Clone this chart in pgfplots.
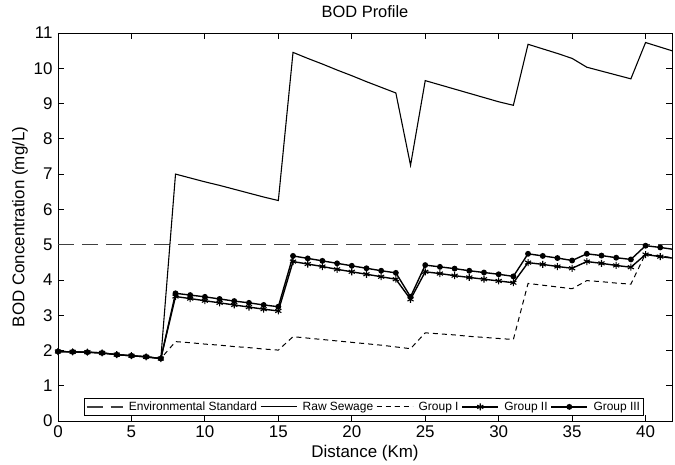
\documentclass[border=0pt]{standalone}
\usepackage{fontspec}
\setmainfont{Liberation Sans}
\usepackage{pgfplots}
\pgfplotsset{compat=1.18}
\usepackage{pgfplotstable}

\pgfplotstableread{
x raw g1 g2 g3
0 1.97 1.97 1.97 1.97
1 1.96 1.96 1.96 1.96
2 1.95 1.95 1.95 1.95
3 1.93 1.93 1.93 1.93
4 1.88 1.88 1.88 1.88
5 1.85 1.85 1.85 1.85
6 1.82 1.82 1.82 1.82
7 1.77 1.77 1.77 1.77
8 7.00 2.25 3.53 3.62
9 6.89 2.22 3.47 3.57
10 6.78 2.18 3.41 3.52
11 6.68 2.15 3.35 3.46
12 6.57 2.11 3.29 3.40
13 6.46 2.08 3.23 3.35
14 6.35 2.04 3.17 3.29
15 6.25 2.01 3.12 3.24
16 10.45 2.39 4.52 4.68
17 10.28 2.35 4.45 4.61
18 10.12 2.31 4.38 4.54
19 9.95 2.27 4.30 4.47
20 9.79 2.23 4.23 4.40
21 9.62 2.19 4.16 4.33
22 9.46 2.15 4.09 4.26
23 9.30 2.10 4.02 4.20
24 7.25 2.05 3.45 3.52
25 9.65 2.50 4.23 4.42
26 9.53 2.47 4.18 4.37
27 9.41 2.44 4.12 4.32
28 9.29 2.40 4.07 4.26
29 9.17 2.37 4.02 4.21
30 9.05 2.34 3.97 4.16
31 8.95 2.31 3.92 4.10
32 10.68 3.90 4.49 4.74
33 10.55 3.85 4.44 4.68
34 10.42 3.80 4.38 4.62
35 10.28 3.75 4.33 4.55
36 10.03 3.98 4.52 4.74
37 9.92 3.95 4.47 4.69
38 9.81 3.91 4.41 4.63
39 9.70 3.88 4.36 4.58
40 10.73 4.74 4.72 4.97
41 10.60 4.68 4.66 4.92
42 10.47 4.62 4.61 4.86
}\data

\pgfplotstableread{
x y
0 5
42 5
}\standard

\begin{document}
\begin{tikzpicture}
\begin{axis}[
  scale only axis, width=614bp, height=388bp,
  xmin=0, xmax=41.8, ymin=0, ymax=11,
  xtick={0,5,...,40}, ytick={0,1,...,11},
  xtick pos=both, ytick pos=both,
  xticklabel pos=lower, yticklabel pos=left,
  tick align=inside, major tick length=6bp,
  axis line style={line width=0.9pt},
  every tick/.style={black, line width=0.8pt},
  /pgf/number format/assume math mode=true,
  tick label style={font=\fontsize{17}{20}\selectfont},
  yticklabel style={xshift=-2bp},
  xticklabel style={yshift=-1bp},
  label style={font=\fontsize{17}{20}\selectfont},
  every axis title shift=0pt,
  title style={font=\fontsize{16.5}{20}\selectfont, at={(axis description cs:0.5,1.054)}, anchor=center, yshift=0pt},
  title={BOD Profile},
  xlabel={Distance (Km)}, ylabel={BOD Concentration (mg/L)},
  xlabel style={at={(axis description cs:0.5,-0.082)}, anchor=center},
  ylabel style={at={(axis description cs:-0.062,0.5)}, anchor=center},
  legend columns=-1,
  legend style={at={(0.042,0.013)}, anchor=south west,
    font=\fontsize{12}{14}\selectfont, draw=black, line width=1pt,
    inner sep=1.5bp,
    nodes={inner sep=2bp},
    /tikz/every even column/.append style={column sep=1bp},
    /tikz/every odd column/.append style={column sep=3.5bp}},
  legend image code/.code={\draw[mark repeat=2,mark phase=2] plot coordinates {(0bp,0bp) (18bp,0bp) (36bp,0bp)};},
]
\coordinate (sw) at (rel axis cs:0,0);
\coordinate (ne) at (rel axis cs:1,1);
\addplot[color=black!75, line width=1.6pt, dash pattern=on 16bp off 8bp] table[x=x,y=y] {\standard};
\addlegendentry{Environmental Standard}
\addplot[black, line width=1.1pt] table[x=x,y=raw] {\data};
\addlegendentry{Raw Sewage}
\addplot[black, line width=1pt, dash pattern=on 5bp off 4bp] table[x=x,y=g1] {\data};
\addlegendentry{Group I}
\addplot[black, line width=1.4pt, mark=asterisk, mark size=3.5bp, mark options={line width=1.1pt, solid}] table[x=x,y=g2] {\data};
\addlegendentry{Group II}
\addplot[black, line width=1.4pt, mark=*, mark size=2.2bp, mark options={solid}] table[x=x,y=g3] {\data};
\addlegendentry{Group III}
\end{axis}
\pgfresetboundingbox
\path ([shift={(-58bp,-44bp)}]sw) rectangle ([shift={(3bp,33bp)}]ne);
\end{tikzpicture}
\end{document}
